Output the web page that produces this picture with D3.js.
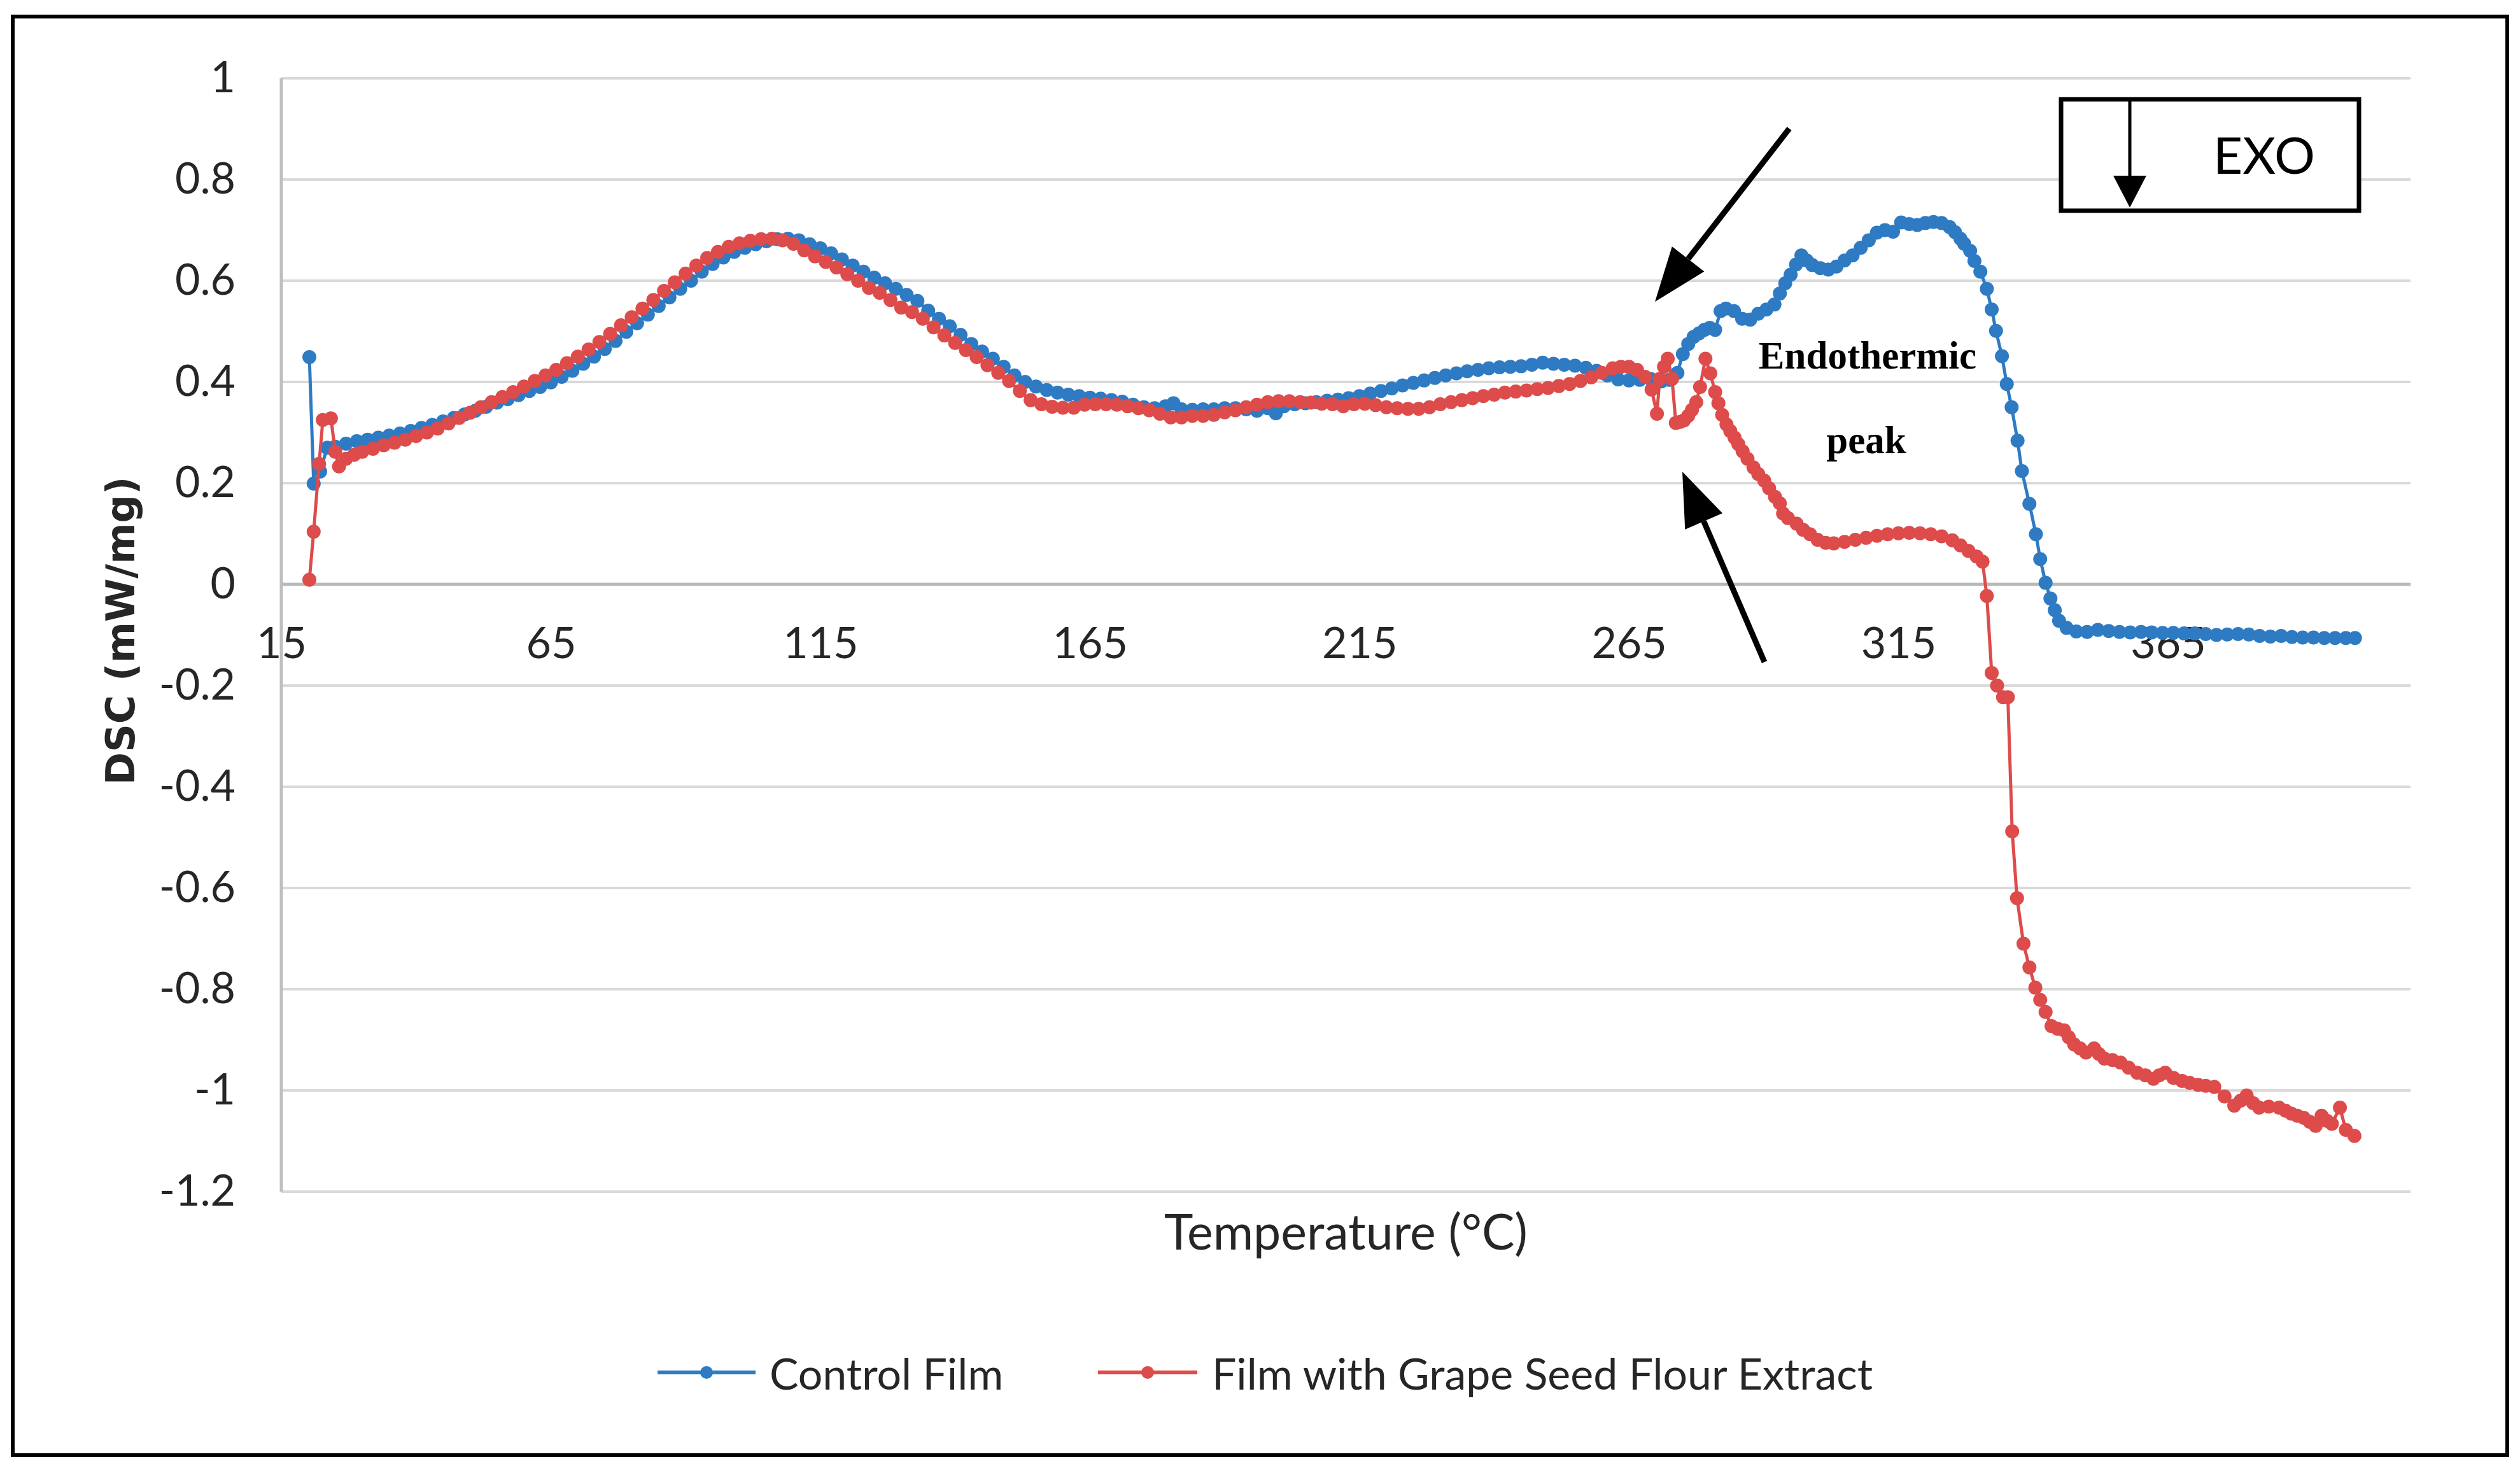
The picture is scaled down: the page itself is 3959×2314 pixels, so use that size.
<!DOCTYPE html>
<html>
<head>
<meta charset="utf-8">
<script src="https://cdn.jsdelivr.net/npm/d3@7"></script>
<style>
  body { margin: 0; background: #ffffff; }
</style>
</head>
<body>
<div id="chart"></div>
<script>
/*********************** DATA ***********************/
// Control Film (temperature in °C, DSC in mW/mg)
const controlTemp = [20.2, 21.0, 22.2, 23.5, 25, 27, 29, 31, 33, 35, 37, 39, 41, 43, 45, 47, 49, 51, 53, 55,
  57, 59, 61, 63, 65, 67, 69, 71, 73, 75, 77, 79, 81, 83, 85, 87, 89, 91, 93, 95,
  97, 99, 101, 103, 105, 107, 109, 111, 113, 115, 117, 119, 121, 123, 125, 127, 129, 131, 133, 135,
  137, 139, 141, 143, 145, 147, 149, 151, 153, 155, 157, 159, 161, 163, 165, 167, 169, 171, 173, 175,
  177, 179, 180.5, 182, 184, 186, 188, 190, 192, 194, 196, 198, 199.5, 201, 203, 205, 207, 209, 211, 213,
  215, 217, 219, 221, 223, 225, 227, 229, 231, 233, 235, 237, 239, 241, 243, 245, 247, 249, 251, 253,
  255, 257, 259, 261, 263, 265, 267, 269, 271, 272.5, 274, 275, 276, 277, 278, 279, 280, 281, 282, 283,
  284.5, 286, 287.5, 289, 290.5, 292, 293, 294, 295, 296, 297, 298, 299, 300.5, 302, 303.5, 305, 306.5, 308, 309.5,
  311, 312.5, 314, 315.5, 317, 318.5, 320, 321.5, 323, 324.5, 325.5, 326.5, 327.2, 328.3, 329.1, 330.2, 331.4, 332.3, 333.1, 334.2,
  335.1, 336.0, 337.1, 337.9, 339.3, 340.5, 341.3, 342.3, 343.2, 344.0, 344.8, 346.2, 348, 350, 352, 354, 356, 358, 360, 362,
  364, 366, 368, 370, 372, 374, 376, 378, 380, 382, 384, 386, 388, 390, 392, 394, 396, 398, 399.7];
const controlDsc = [0.449, 0.199, 0.223, 0.270, 0.272, 0.278, 0.283, 0.286, 0.290, 0.294, 0.298, 0.303, 0.309, 0.315, 0.322, 0.329, 0.336, 0.343, 0.351, 0.359,
  0.366, 0.374, 0.382, 0.390, 0.399, 0.410, 0.422, 0.436, 0.450, 0.465, 0.481, 0.499, 0.516, 0.533, 0.550, 0.567, 0.584, 0.600, 0.618, 0.633,
  0.646, 0.657, 0.665, 0.672, 0.678, 0.682, 0.683, 0.680, 0.672, 0.664, 0.654, 0.642, 0.630, 0.618, 0.606, 0.595, 0.584, 0.572, 0.560, 0.541,
  0.525, 0.510, 0.493, 0.475, 0.460, 0.446, 0.430, 0.413, 0.400, 0.391, 0.384, 0.379, 0.375, 0.372, 0.369, 0.367, 0.364, 0.361, 0.355, 0.350,
  0.348, 0.352, 0.358, 0.346, 0.345, 0.346, 0.346, 0.348, 0.348, 0.346, 0.343, 0.348, 0.338, 0.352, 0.356, 0.358, 0.360, 0.363, 0.365, 0.368,
  0.372, 0.377, 0.382, 0.387, 0.393, 0.398, 0.403, 0.408, 0.413, 0.417, 0.421, 0.424, 0.427, 0.429, 0.430, 0.431, 0.434, 0.438, 0.436, 0.434,
  0.432, 0.428, 0.422, 0.413, 0.405, 0.403, 0.404, 0.406, 0.401, 0.404, 0.418, 0.455, 0.475, 0.489, 0.496, 0.503, 0.507, 0.503, 0.540, 0.545,
  0.540, 0.525, 0.523, 0.535, 0.543, 0.553, 0.575, 0.595, 0.612, 0.632, 0.650, 0.640, 0.631, 0.625, 0.622, 0.628, 0.640, 0.650, 0.665, 0.680,
  0.695, 0.700, 0.697, 0.715, 0.712, 0.710, 0.714, 0.716, 0.714, 0.706, 0.696, 0.683, 0.673, 0.659, 0.639, 0.618, 0.584, 0.543, 0.501, 0.451,
  0.396, 0.350, 0.284, 0.224, 0.159, 0.099, 0.050, 0.003, -0.028, -0.051, -0.072, -0.086, -0.093, -0.094, -0.090, -0.092, -0.094, -0.095, -0.094, -0.095,
  -0.096, -0.096, -0.097, -0.097, -0.098, -0.100, -0.099, -0.098, -0.099, -0.102, -0.103, -0.102, -0.104, -0.105, -0.105, -0.106, -0.106, -0.106, -0.106];

// Film with Grape Seed Flour Extract
const extractTemp = [20.2, 21.0, 22.0, 22.7, 24.2, 25.0, 25.7, 27, 28.5, 30, 32, 34, 36, 38, 40, 42, 44, 46, 48, 50,
  52, 54, 56, 58, 60, 62, 64, 66, 68, 70, 72, 74, 76, 78, 80, 82, 84, 86, 88, 90,
  92, 94, 96, 98, 100, 102, 104, 106, 108, 110, 112, 114, 116, 118, 120, 122, 124, 126, 128, 130,
  132, 134, 136, 138, 140, 142, 144, 146, 148, 150, 152, 154, 156, 158, 160, 162, 164, 166, 168, 170,
  172, 174, 176, 178, 180, 182, 184, 186, 188, 190, 192, 194, 196, 198, 200, 202, 204, 206, 208, 210,
  212, 214, 216, 218, 220, 222, 224, 226, 228, 230, 232, 234, 236, 238, 240, 242, 244, 246, 248, 250,
  252, 254, 256, 258, 260, 262, 263.5, 265, 266.5, 268, 269.2, 270.2, 270.7, 271.5, 272.2, 273.0, 273.7, 274.5, 275.2, 276,
  276.7, 277.5, 278.2, 279.2, 280.1, 281, 281.6, 282.3, 283.1, 283.8, 284.6, 285.3, 286.1, 287, 288.1, 289, 290.1, 291, 292.1, 293,
  293.6, 294.5, 296.1, 297.3, 298.6, 300, 301.5, 303, 305, 307, 309, 311, 313, 315, 317, 319, 321, 323, 325, 326.5,
  328, 329.5, 330.6, 331.4, 332.3, 333.3, 334.4, 335.3, 336.1, 337.0, 338.2, 339.3, 340.4, 341.3, 342.3, 343.4, 344.5, 345.7, 346.6, 347.6,
  348.7, 349.8, 351.3, 352.2, 353.2, 354.7, 356.2, 357.7, 359.3, 360.8, 362.3, 363.4, 364.5, 366, 367.6, 369, 370.6, 372, 373.6, 375.5,
  377.3, 378.5, 379.6, 380.8, 381.9, 383.7, 385.6, 386.8, 387.9, 389, 390.2, 391.3, 392.4, 393.5, 394.5, 395.4, 396.9, 398.0, 399.6];
const extractDsc = [0.009, 0.104, 0.238, 0.325, 0.328, 0.262, 0.233, 0.248, 0.256, 0.262, 0.268, 0.275, 0.280, 0.286, 0.293, 0.300, 0.308, 0.318, 0.329, 0.339,
  0.350, 0.360, 0.370, 0.380, 0.391, 0.402, 0.413, 0.424, 0.437, 0.450, 0.464, 0.479, 0.495, 0.512, 0.528, 0.545, 0.562, 0.580, 0.597, 0.614,
  0.630, 0.645, 0.657, 0.667, 0.674, 0.679, 0.682, 0.683, 0.680, 0.673, 0.660, 0.648, 0.637, 0.626, 0.613, 0.600, 0.586, 0.576, 0.562, 0.547,
  0.538, 0.525, 0.508, 0.492, 0.477, 0.463, 0.449, 0.433, 0.418, 0.402, 0.382, 0.364, 0.356, 0.351, 0.349, 0.349, 0.355, 0.356, 0.356, 0.355,
  0.352, 0.348, 0.344, 0.337, 0.330, 0.330, 0.333, 0.333, 0.335, 0.340, 0.344, 0.350, 0.355, 0.360, 0.362, 0.362, 0.360, 0.359, 0.357, 0.356,
  0.352, 0.356, 0.357, 0.354, 0.350, 0.348, 0.347, 0.347, 0.350, 0.356, 0.360, 0.364, 0.368, 0.372, 0.375, 0.379, 0.381, 0.383, 0.386, 0.388,
  0.392, 0.396, 0.402, 0.409, 0.418, 0.427, 0.430, 0.430, 0.424, 0.410, 0.385, 0.337, 0.406, 0.430, 0.446, 0.406, 0.319, 0.321, 0.324, 0.333,
  0.345, 0.360, 0.390, 0.446, 0.417, 0.380, 0.358, 0.335, 0.316, 0.303, 0.290, 0.277, 0.263, 0.248, 0.231, 0.218, 0.205, 0.190, 0.173, 0.160,
  0.140, 0.131, 0.120, 0.108, 0.099, 0.088, 0.082, 0.081, 0.084, 0.088, 0.092, 0.096, 0.099, 0.101, 0.102, 0.101, 0.099, 0.095, 0.087, 0.077,
  0.066, 0.055, 0.045, -0.023, -0.175, -0.200, -0.223, -0.223, -0.488, -0.620, -0.710, -0.757, -0.797, -0.821, -0.845, -0.873, -0.878, -0.881, -0.895, -0.909,
  -0.917, -0.925, -0.917, -0.928, -0.937, -0.940, -0.945, -0.955, -0.965, -0.970, -0.977, -0.970, -0.965, -0.975, -0.981, -0.985, -0.989, -0.991, -0.993, -1.012,
  -1.030, -1.020, -1.010, -1.025, -1.034, -1.032, -1.034, -1.040, -1.046, -1.050, -1.054, -1.062, -1.070, -1.050, -1.060, -1.066, -1.034, -1.078, -1.090];

// axis ticks
const xTicks = [15, 65, 115, 165, 215, 265, 315, 365];
const yTicks = [-1.2, -1, -0.8, -0.6, -0.4, -0.2, 0, 0.2, 0.4, 0.6, 0.8, 1];
const yTickLabels = ["-1.2", "-1", "-0.8", "-0.6", "-0.4", "-0.2", "0", "0.2", "0.4", "0.6", "0.8", "1"];

const seriesNames = ["Control Film", "Film with Grape Seed Flour Extract"];

/*********************** LAYOUT ***********************/
const svgWidth = 3959;
const svgHeight = 2314;

const plot = { left: 442, right: 3787, top: 123, bottom: 1872 };

const blue = "#2E7BC3";
const red = "#DD4B4B";
const labelFont = "Lato, 'Open Sans', sans-serif";

const svg = d3.select("#chart")
  .append("svg")
  .attr("width", svgWidth)
  .attr("height", svgHeight);

svg.append("rect")
  .attr("width", svgWidth)
  .attr("height", svgHeight)
  .attr("fill", "#ffffff");

// outer frame
svg.append("rect")
  .attr("x", 20).attr("y", 26)
  .attr("width", 3919).attr("height", 2260)
  .attr("fill", "none")
  .attr("stroke", "#000")
  .attr("stroke-width", 6);

/*********************** SCALES ***********************/
const xScale = d3.scaleLinear().domain([15, 410]).range([plot.left, plot.right]);
const yScale = d3.scaleLinear().domain([-1.2, 1]).range([plot.bottom, plot.top]);

// gridlines
svg.append("g")
  .selectAll("line")
  .data(yTicks.filter(d => d !== 0))
  .enter()
  .append("line")
  .attr("x1", plot.left)
  .attr("x2", plot.right)
  .attr("y1", d => yScale(d))
  .attr("y2", d => yScale(d))
  .attr("stroke", "#D9D9D9")
  .attr("stroke-width", 4);

// zero line (horizontal axis) and vertical axis
svg.append("line")
  .attr("x1", plot.left).attr("x2", plot.right)
  .attr("y1", yScale(0)).attr("y2", yScale(0))
  .attr("stroke", "#B8B8B8")
  .attr("stroke-width", 5);

svg.append("line")
  .attr("x1", plot.left).attr("x2", plot.left)
  .attr("y1", yScale(1)).attr("y2", yScale(-1.2))
  .attr("stroke", "#BFBFBF")
  .attr("stroke-width", 5);

/*********************** AXES ***********************/
const leftAxis = d3.axisLeft(yScale)
  .tickValues(yTicks)
  .tickFormat((d, i) => yTickLabels[i])
  .tickSize(0)
  .tickPadding(72);

svg.append("g")
  .attr("transform", `translate(${plot.left},0)`)
  .call(leftAxis)
  .call(g => g.select(".domain").remove())
  .attr("font-family", labelFont)
  .attr("font-size", 68)
  .selectAll("text")
  .attr("fill", "#262626");

const bottomAxis = d3.axisBottom(xScale)
  .tickValues(xTicks)
  .tickFormat(d => String(d))
  .tickSize(0)
  .tickPadding(68);

svg.append("g")
  .attr("transform", `translate(0,${yScale(0)})`)
  .call(bottomAxis)
  .call(g => g.select(".domain").remove())
  .attr("font-family", labelFont)
  .attr("font-size", 68)
  .selectAll("text")
  .attr("fill", "#262626");

// axis titles
svg.append("text")
  .text("DSC (mW/mg)")
  .attr("transform", "translate(189,991) rotate(-90)")
  .attr("text-anchor", "middle")
  .attr("dominant-baseline", "central")
  .attr("font-family", "'DejaVu Sans', sans-serif")
  .attr("font-weight", "bold")
  .attr("font-size", 62)
  .attr("fill", "#262626");

svg.append("text")
  .text("Temperature (°C)")
  .attr("x", (plot.left + plot.right) / 2)
  .attr("y", 1963)
  .attr("text-anchor", "middle")
  .attr("font-family", labelFont)
  .attr("font-size", 77)
  .attr("fill", "#262626");

/*********************** SERIES ***********************/
const controlData = controlTemp.map((t, i) => ({ t: t, v: controlDsc[i] }));
const extractData = extractTemp.map((t, i) => ({ t: t, v: extractDsc[i] }));

const line = d3.line()
  .x(d => xScale(d.t))
  .y(d => yScale(d.v));

function drawSeries(data, color, cls) {
  svg.append("path")
    .datum(data)
    .attr("d", line)
    .attr("fill", "none")
    .attr("stroke", color)
    .attr("stroke-width", 5);

  svg.append("g")
    .selectAll("." + cls)
    .data(data)
    .enter()
    .append("circle")
    .classed(cls, true)
    .attr("cx", d => xScale(d.t))
    .attr("cy", d => yScale(d.v))
    .attr("r", 11)
    .attr("fill", color);
}

drawSeries(controlData, blue, "controlDot");
drawSeries(extractData, red, "extractDot");

/*********************** LEGEND ***********************/
const legendItems = [
  { name: seriesNames[0], color: blue, x1: 1033, x2: 1187, tx: 1209 },
  { name: seriesNames[1], color: red, x1: 1725, x2: 1881, tx: 1904 }
];
const legendY = 2156;

const legend = svg.append("g");
legendItems.forEach(item => {
  legend.append("line")
    .attr("x1", item.x1).attr("x2", item.x2)
    .attr("y1", legendY).attr("y2", legendY)
    .attr("stroke", item.color)
    .attr("stroke-width", 6);
  legend.append("circle")
    .attr("cx", (item.x1 + item.x2) / 2)
    .attr("cy", legendY)
    .attr("r", 10)
    .attr("fill", item.color);
  legend.append("text")
    .text(item.name)
    .attr("x", item.tx)
    .attr("y", legendY)
    .attr("dominant-baseline", "central")
    .attr("font-family", labelFont)
    .attr("font-size", 68)
    .attr("fill", "#262626");
});

/*********************** ANNOTATIONS ***********************/
function arrow(x1, y1, x2, y2, width, headLen, headHalf) {
  const ang = Math.atan2(y2 - y1, x2 - x1);
  const bx = x2 - headLen * Math.cos(ang);
  const by = y2 - headLen * Math.sin(ang);
  svg.append("line")
    .attr("x1", x1).attr("y1", y1)
    .attr("x2", bx).attr("y2", by)
    .attr("stroke", "#000")
    .attr("stroke-width", width);
  const px = -Math.sin(ang) * headHalf;
  const py = Math.cos(ang) * headHalf;
  svg.append("polygon")
    .attr("points", `${x2},${y2} ${bx + px},${by + py} ${bx - px},${by - py}`)
    .attr("fill", "#000");
}

// pointing arrows
arrow(2811, 202, 2600, 474, 9, 85, 32);
arrow(2772, 1040, 2643, 741, 9, 85, 32);

// "Endothermic peak"
svg.append("text")
  .text("Endothermic")
  .attr("x", 2934).attr("y", 579)
  .attr("text-anchor", "middle")
  .attr("font-family", "'Liberation Serif', serif")
  .attr("font-weight", "bold")
  .attr("font-size", 61)
  .attr("fill", "#000");

svg.append("text")
  .text("peak")
  .attr("x", 2932).attr("y", 712)
  .attr("text-anchor", "middle")
  .attr("font-family", "'Liberation Serif', serif")
  .attr("font-weight", "bold")
  .attr("font-size", 61)
  .attr("fill", "#000");

// EXO box
svg.append("rect")
  .attr("x", 3238).attr("y", 156)
  .attr("width", 468).attr("height", 175)
  .attr("fill", "#fff")
  .attr("stroke", "#000")
  .attr("stroke-width", 7);

arrow(3346, 156, 3346, 326, 5, 50, 26);

svg.append("text")
  .text("EXO")
  .attr("x", 3557).attr("y", 242)
  .attr("text-anchor", "middle")
  .attr("dominant-baseline", "central")
  .attr("font-family", labelFont)
  .attr("font-size", 80)
  .attr("fill", "#000");
</script>
</body>
</html>
